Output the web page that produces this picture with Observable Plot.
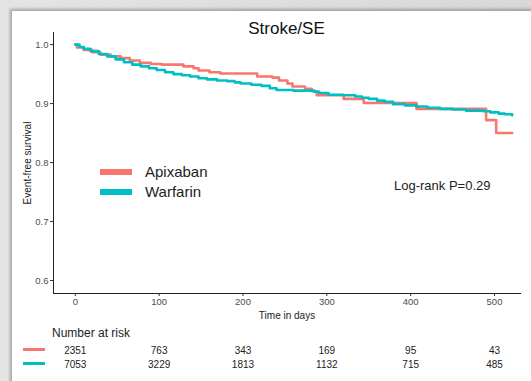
<!DOCTYPE html>
<html>
<head>
<meta charset="utf-8">
<script src="https://cdn.jsdelivr.net/npm/d3@7"></script>
<script src="https://cdn.jsdelivr.net/npm/@observablehq/plot@0.6"></script>
<style>
  body { margin: 0; font-family: "Liberation Sans", Arial, sans-serif; }
  #wrap { position: relative; width: 531px; height: 381px; overflow: hidden;
          background: linear-gradient(90deg, #e4e4e4 0%, #d8d8d8 100%); }
  #card { position: absolute; left: 12px; top: 11px; width: 525px; height: 380px; background: #fff;
          box-shadow: -2px -2px 3px rgba(0,0,0,0.28); }
  .abs { position: absolute; white-space: nowrap; color: #222; }
  .sw { position: absolute; }
  #main, #risk { position: absolute; left: 0; }
  #main { top: 0; }
  #risk { top: 322px; }
</style>
</head>
<body>
<div id="wrap">
  <div id="card"></div>
  <div id="main"></div>
  <div id="risk"></div>
  <div class="abs" id="title" style="left:0;width:573px;text-align:center;top:19px;font-size:17px;color:#111">Stroke/SE</div>
  <div class="sw" style="left:100px;top:169px;width:32px;height:6px;background:#F8766D"></div>
  <div class="sw" style="left:100px;top:189px;width:32px;height:6px;background:#00BFC4"></div>
  <div class="abs" style="left:145px;top:163px;font-size:15px;">Apixaban</div>
  <div class="abs" style="left:145px;top:183px;font-size:15px;">Warfarin</div>
  <div class="abs" style="left:394px;top:178px;font-size:13px;">Log-rank P=0.29</div>
  <div class="abs" style="left:52px;top:326px;font-size:12px;">Number at risk</div>
  <div class="sw" style="left:23px;top:348px;width:22px;height:3px;background:#F8766D"></div>
  <div class="sw" style="left:23px;top:362px;width:22px;height:3px;background:#00BFC4"></div>
</div>
<script>
// ---- data ----
const groups = ["Apixaban", "Warfarin"];
const colors = ["#F8766D", "#00BFC4"];

const apixabanDays = [0, 2, 10, 20, 30, 42, 54, 65, 77, 90, 103, 129, 141, 147, 160, 173, 217, 235, 243, 253, 259, 274, 282, 288, 320, 344, 407, 490, 502, 521];
const apixabanSurv = [1.000, 0.995, 0.991, 0.987, 0.983, 0.980, 0.977, 0.973, 0.969, 0.967, 0.966, 0.963, 0.960, 0.956, 0.953, 0.951, 0.946, 0.944, 0.939, 0.934, 0.929, 0.925, 0.921, 0.914, 0.908, 0.901, 0.891, 0.872, 0.850, 0.850];

const warfarinDays = [0, 5, 10, 18, 28, 38, 48, 58, 68, 78, 88, 97, 107, 117, 127, 137, 147, 157, 169, 181, 190, 197, 210, 222, 232, 240, 260, 278, 285, 291, 302, 320, 334, 342, 350, 360, 369, 379, 393, 407, 420, 435, 450, 466, 486, 495, 505, 512, 521];
const warfarinSurv = [1.000, 0.996, 0.993, 0.989, 0.984, 0.980, 0.975, 0.970, 0.966, 0.963, 0.960, 0.957, 0.953, 0.950, 0.948, 0.946, 0.943, 0.941, 0.939, 0.938, 0.936, 0.934, 0.932, 0.930, 0.926, 0.923, 0.922, 0.922, 0.920, 0.918, 0.915, 0.914, 0.912, 0.910, 0.908, 0.905, 0.903, 0.899, 0.897, 0.895, 0.893, 0.891, 0.890, 0.888, 0.887, 0.885, 0.883, 0.882, 0.880];

const xTicks = [0, 100, 200, 300, 400, 500];
const yTicks = [0.6, 0.7, 0.8, 0.9, 1.0];

const riskDays = [0, 100, 200, 300, 400, 500];
const riskApixaban = [2351, 763, 343, 169, 95, 43];
const riskWarfarin = [7053, 3229, 1813, 1132, 715, 485];

// ---- build tables ----
const curves = [
  ...apixabanDays.map((d, i) => ({group: "Apixaban", day: d, s: apixabanSurv[i]})),
  ...warfarinDays.map((d, i) => ({group: "Warfarin", day: d, s: warfarinSurv[i]}))
];
const risk = [
  ...riskDays.map((d, i) => ({group: "Apixaban", day: d, n: riskApixaban[i]})),
  ...riskDays.map((d, i) => ({group: "Warfarin", day: d, n: riskWarfarin[i]}))
];

const xDomain = [-26, 531];
const font = "Liberation Sans, Arial, sans-serif";

const main = Plot.plot({
  width: 531, height: 320,
  marginLeft: 53, marginRight: 11, marginTop: 32, marginBottom: 27,
  style: {fontFamily: font, fontSize: "9.5px", color: "#4d4d4d", background: "transparent", overflow: "visible"},
  x: {domain: xDomain},
  y: {domain: [0.578, 1.0205]},
  color: {domain: groups, range: colors},
  marks: [
    Plot.frame({anchor: "left", stroke: "#222"}),
    Plot.frame({anchor: "bottom", stroke: "#222"}),
    Plot.axisX({ticks: xTicks, tickSize: 3, tickPadding: 2, label: "Time in days", labelArrow: "none", labelAnchor: "center", labelOffset: 25, stroke: "#333"}),
    Plot.axisY({ticks: yTicks, tickSize: 3, tickPadding: 2, tickFormat: d => d.toFixed(1), label: "Event-free survival", labelArrow: "none", labelAnchor: "center", labelOffset: 30, stroke: "#333"}),
    Plot.line(curves, {x: "day", y: "s", z: "group", stroke: "group", strokeWidth: 2.6, curve: "step-after"})
  ]
});
main.querySelectorAll("[aria-label='x-axis label'] text, [aria-label='y-axis label'] text").forEach(t => {
  t.setAttribute("font-size", "10px"); t.setAttribute("fill", "#222");
  t.textContent = t.textContent.replace(/\s*[→←↑↓]\s*/g, "").trim();
});
document.getElementById("main").appendChild(main);

const riskPlot = Plot.plot({
  width: 531, height: 55,
  marginLeft: 53, marginRight: 11, marginTop: 0, marginBottom: 0,
  style: {fontFamily: font, fontSize: "10px", background: "transparent", overflow: "visible"},
  x: {domain: xDomain, axis: null},
  y: {type: "point", domain: groups, range: [28, 42], padding: 0, axis: null},
  marks: [
    Plot.text(risk, {x: "day", y: "group", text: d => String(d.n), fill: "#222"})
  ]
});
document.getElementById("risk").appendChild(riskPlot);
</script>
</body>
</html>
